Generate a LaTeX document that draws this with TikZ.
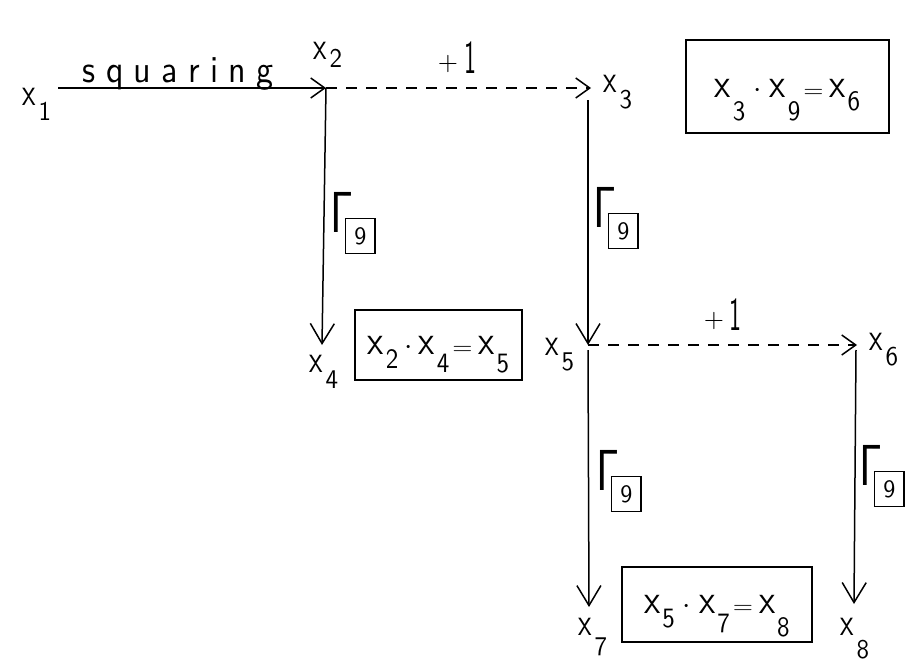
\documentclass[tikz,border=0pt]{standalone}
\usepackage{graphicx}
\usetikzlibrary{arrows.meta}
\begin{document}
\begin{tikzpicture}[x=1pt,y=-1pt,
  conn/.style={line width=1.5pt,-{Straight Barb[length=14pt,width=20pt,line width=1.5pt]}},
  vconn/.style={line width=1.5pt,-{Straight Barb[length=20pt,width=24pt,line width=1.5pt]}},
  dconn/.style={conn,dash pattern=on 11pt off 9pt},
  var/.style={inner sep=0pt,anchor=base west},
  lab/.style={inner sep=0pt},
  eqbox/.style={draw,line width=1.5pt,inner sep=0pt},
  gam/.style={inner sep=0pt,anchor=north west}]
\useasboundingbox (0,0) rectangle (914,672);
\newcommand{\xv}[2]{\scalebox{2.9}[3.9]{\sffamily x}\hspace{3pt}\raisebox{-#2pt}{\scalebox{2.5}[2.7]{\sffamily #1}}}
\newcommand{\ex}[2]{\scalebox{3.5}[4.1]{\sffamily x}\hspace{2pt}\raisebox{-#2pt}{\scalebox{2.5}[2.8]{\sffamily #1}}}
\newcommand{\edot}{\hspace{8pt}\scalebox{3}{$\cdot$}\hspace{8pt}}
\newcommand{\eeq}{\hspace{3pt}\scalebox{2.6}[2.2]{$=$}\hspace{6pt}}
\newcommand{\plusone}{\raisebox{3pt}{\scalebox{2.6}{\sffamily +}}\hspace{6pt}\scalebox{2.4}[4.7]{\sffamily 1}}
\newcommand{\gbox}{\scalebox{4.2}[5.8]{$\mathsf{\Gamma}$}\hspace{-8pt}\raisebox{-11.6pt}{\setlength{\fboxsep}{8pt}\setlength{\fboxrule}{1.4pt}\fbox{\scalebox{2.4}[2.5]{\sffamily 9}}}}
% junctions
\coordinate (j1) at (58,88);
\coordinate (j2) at (326,88);
\coordinate (j3) at (591,88);
\coordinate (j3b) at (588,100);
\coordinate (j4) at (322,345);
\coordinate (j5) at (588,345);
\coordinate (j6) at (857,345);
\coordinate (j5b) at (588,350);
\coordinate (j6b) at (856,350);
\coordinate (j7) at (589,607);
\coordinate (j8) at (854,604);
% variable labels
\node[var] (x1) at (22,105) {\xv{1}{15}};
\node[var] (x2) at (313,59) {\xv{2}{8}};
\node[var] (x3) at (603,92) {\xv{3}{16}};
\node[var] (x4) at (309,372) {\xv{4}{16}};
\node[var] (x5) at (545,355) {\xv{5}{15}};
\node[var] (x6) at (869,350) {\xv{6}{15}};
\node[var] (x7) at (578,635) {\xv{7}{20}};
\node[var] (x8) at (840,635) {\xv{8}{23}};
% connectors
\draw[conn] (j1) -- node[lab,anchor=base,xshift=-14pt,yshift=6pt]{\scalebox{3.4}[3.8]{\sffamily s\hspace{3pt}q\hspace{3pt}u\hspace{3pt}a\hspace{3pt}r\hspace{3pt}i\hspace{3pt}n\hspace{3pt}g}} (j2);
\draw[dconn] (j2) -- node[lab,pos=0.419,anchor=base west,yshift=15pt]{\plusone} (j3);
\draw[vconn] (j2) -- (j4);
\draw[vconn] (j3b) -- (j5);
\draw[dconn] (j5) -- node[lab,pos=0.4275,anchor=base west,yshift=15pt]{\plusone} (j6);
\draw[vconn] (j5b) -- (j7);
\draw[vconn] (j6b) -- (j8);
% gamma labels
\node[gam] (g1) at (330,192) {\gbox};
\node[gam] (g2) at (593,187) {\gbox};
\node[gam] (g3) at (596,450) {\gbox};
\node[gam] (g4) at (859,445) {\gbox};
% equation boxes
\node[eqbox,minimum width=203pt,minimum height=93pt] (b1) at (787.5,86.5)
  {\raisebox{0pt}[30pt][9pt]{\ex{3}{23}\edot\ex{9}{23}\eeq\ex{6}{13}}};
\node[eqbox,minimum width=167pt,minimum height=70pt] (b2) at (438.5,345)
  {\raisebox{0pt}[27pt][9pt]{\ex{2}{14}\hspace{-2pt}\edot\hspace{-2pt}\ex{4}{18}\eeq\ex{5}{18}}};
\node[eqbox,minimum width=190pt,minimum height=75pt] (b3) at (717,604.5)
  {\raisebox{0pt}[27pt][9pt]{\ex{5}{14}\edot\ex{7}{19}\eeq\ex{8}{23}}};
\end{tikzpicture}
\end{document}
